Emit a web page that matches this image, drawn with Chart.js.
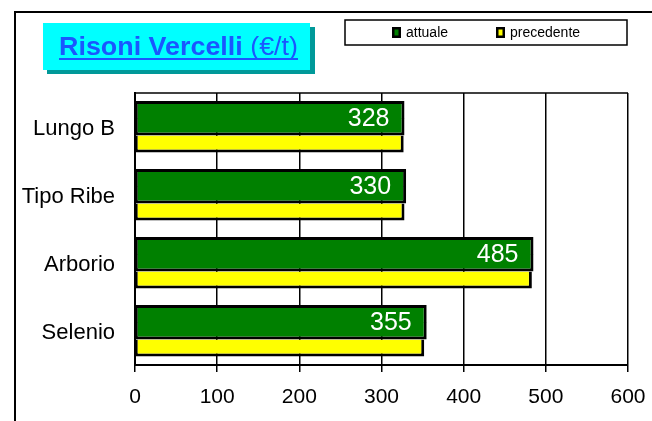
<!DOCTYPE html>
<html>
<head>
<meta charset="utf-8">
<script src="https://cdn.jsdelivr.net/npm/chart.js@4/dist/chart.umd.min.js"></script>
<style>
html, body { margin: 0; padding: 0; background: #fff; }
</style>
</head>
<body>
<canvas id="chart" width="652" height="421"></canvas>
<script>
const categories = ['Lungo B', 'Tipo Ribe', 'Arborio', 'Selenio']
const attuale = [328, 330, 485, 355]
const precedente = [327, 328, 483, 352]
const xTicks = [0, 100, 200, 300, 400, 500, 600]
const titleBold = 'Risoni Vercelli '
const titleUnit = '(€/t)'

const fam = "'Liberation Sans', Arial, sans-serif"
const green = '#008000'
const yellow = '#ffff00'

// frame, title box, legend box and value labels
const decor = {
	id: 'decor',
	beforeDraw(chart) {
		const c = chart.ctx
		c.save()
		c.fillStyle = '#fff'
		c.fillRect(0, 0, chart.width, chart.height)
		c.strokeStyle = '#000'
		c.lineWidth = 2
		c.strokeRect(15, 12, 700, 500)
		c.restore()
	},
	beforeDatasetsDraw(chart) {
		const a = chart.chartArea
		const c = chart.ctx
		c.save()
		c.strokeStyle = '#000'
		c.lineWidth = 1.5
		c.beginPath()
		c.moveTo(a.left, a.top)
		c.lineTo(a.right, a.top)
		c.stroke()
		c.restore()
	},
	afterDatasetsDraw(chart) {
		const c = chart.ctx
		const top = chart.getDatasetMeta(0)
		const bot = chart.getDatasetMeta(1)
		c.save()
		c.fillStyle = '#fff'
		c.font = '25px ' + fam
		c.textAlign = 'right'
		c.textBaseline = 'middle'
		top.data.forEach((el, i) => {
			const b = bot.data[i]
			const y = (el.y - el.height / 2 + b.y + b.height / 2) / 2
			c.fillText(String(attuale[i]), el.x - 15, y + 1)
		})
		c.restore()
	},
	afterDraw(chart) {
		const c = chart.ctx
		c.save()
		// title box
		c.fillStyle = '#009999'
		c.fillRect(47, 27, 268, 47)
		c.fillStyle = '#00ffff'
		c.fillRect(43, 23, 267, 47)
		const tSize = 25
		c.font = `bold ${tSize}px ${fam}`
		const w1 = c.measureText(titleBold).width
		c.font = `${tSize}px ${fam}`
		const w2 = c.measureText(titleUnit).width
		const sx = 239 / (w1 + w2)
		c.translate(59, 55)
		c.scale(sx, 1)
		c.fillStyle = '#1a56ff'
		c.textBaseline = 'alphabetic'
		c.font = `bold ${tSize}px ${fam}`
		c.fillText(titleBold, 0, 0)
		c.font = `${tSize}px ${fam}`
		c.fillText(titleUnit, w1, 0)
		c.fillRect(0, 3, w1 + w2, 2)
		c.restore()

		// legend box
		c.save()
		c.fillStyle = '#fff'
		c.fillRect(345, 20, 282, 25)
		c.strokeStyle = '#000'
		c.lineWidth = 1.5
		c.strokeRect(345, 20, 282, 25)
		const ds = chart.data.datasets
		const items = [[ds[0], 392], [ds[2], 496]]
		c.font = '14px ' + fam
		c.textBaseline = 'middle'
		items.forEach(([d, x]) => {
			c.fillStyle = '#000'
			c.fillRect(x, 27, 9, 11)
			c.fillStyle = d.backgroundColor
			c.fillRect(x + 2.5, 29.5, 4, 6)
			c.fillStyle = '#000'
			c.fillText(d.label, x + 14, 33)
		})
		c.restore()
	}
}

const myChart = new Chart(document.getElementById('chart').getContext('2d'), {
	type: 'bar',
	data: {
		labels: categories,
		datasets: [{
			label: 'attuale',
			data: attuale,
			backgroundColor: green,
			borderColor: '#000',
			borderWidth: { top: 3, left: 2, right: 3, bottom: 0 },
			borderSkipped: false,
			barPercentage: 1.06
		}, {
			label: 'attuale',
			data: attuale,
			backgroundColor: green,
			borderColor: '#000',
			borderWidth: { top: 0, left: 2, right: 3, bottom: 3 },
			borderSkipped: false,
			barPercentage: 1
		}, {
			label: 'precedente',
			data: precedente,
			backgroundColor: yellow,
			borderColor: '#000',
			borderWidth: { top: 0, left: 2, right: 3, bottom: 3 },
			borderSkipped: false,
			barPercentage: 1
		}]
	},
	options: {
		indexAxis: 'y',
		responsive: false,
		animation: false,
		datasets: { bar: { categoryPercentage: 0.75 } },
		layout: { padding: { left: 0, top: 93, right: 24, bottom: 10 } },
		plugins: {
			legend: { display: false },
			title: { display: false },
			tooltip: { enabled: false }
		},
		scales: {
			x: {
				type: 'linear',
				position: 'bottom',
				min: xTicks[0],
				max: xTicks[xTicks.length - 1],
				afterBuildTicks(s) { s.ticks = xTicks.map(v => ({ value: v })) },
				afterFit(s) { s.height = 46; s.paddingLeft = 0; s.paddingRight = 0 },
				grid: { color: '#000', lineWidth: 1.5, tickLength: 7, tickColor: '#000' },
				border: { color: '#000', width: 2 },
				ticks: { color: '#000', font: { family: fam, size: 21 }, padding: 13 }
			},
			y: {
				type: 'category',
				afterFit(s) { s.width = 135; s.paddingTop = 0; s.paddingBottom = 0 },
				grid: { display: false, drawTicks: false },
				border: { display: true, color: '#000', width: 2 },
				ticks: { color: '#000', font: { family: fam, size: 22 }, padding: 20, labelOffset: 2 }
			}
		}
	},
	plugins: [decor]
})
</script>
</body>
</html>
